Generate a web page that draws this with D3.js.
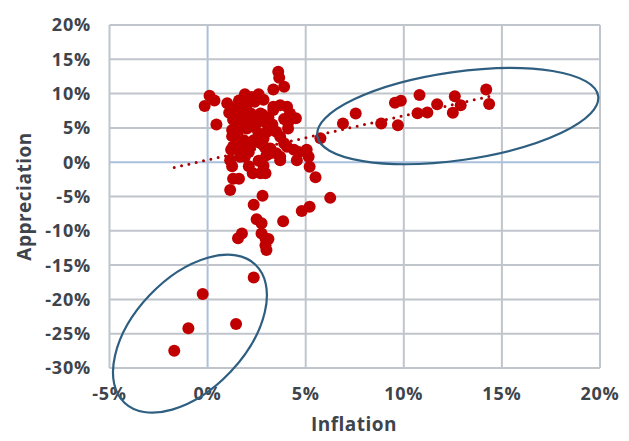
<!DOCTYPE html>
<html><head><meta charset="utf-8">
<script src="https://cdn.jsdelivr.net/npm/d3@7"></script>
<style>
html,body{margin:0;padding:0;background:#fff;}
svg text{font-family:"Open Sans",sans-serif;font-weight:700;fill:#3d444c;}
</style></head>
<body><svg id="chart" width="629" height="441"></svg>
<script>
// Data (percent)
const inflation = [3.6,3.65,3.9,3.35,0.1,-0.15,0.35,0.45,1.0,1.1,1.6,1.9,2.25,2.6,2.85,2.0,2.4,1.4,1.5,1.8,2.7,2.2,1.7,2.35,2.8,1.3,1.9,2.1,1.6,1.25,1.6,2.0,2.4,1.5,1.85,2.35,1.3,1.2,3.35,3.7,4.05,4.2,4.5,3.35,4.1,4.1,3.2,3.5,3.0,3.7,2.85,2.5,2.7,3.9,4.05,3.2,3.5,3.2,2.9,4.4,4.65,4.55,5.05,5.15,5.2,5.5,3.7,3.7,1.15,1.25,1.65,1.9,2.1,2.3,2.7,2.85,2.95,1.3,1.6,1.15,2.8,2.35,2.5,2.75,2.75,2.95,3.1,2.95,3.0,1.75,1.55,3.85,4.8,5.2,6.25,2.35,-0.25,-0.98,1.45,-1.7,5.75,6.9,7.55,8.85,9.7,9.55,9.85,10.8,10.7,11.2,11.7,12.5,12.6,12.9,14.2,14.35,2.9,3.1,2.5,3.3,2.6,1.9,2.1,3.9,1.25,2.2,3.0,1.7,2.6];
const appreciation = [13.2,12.3,11.0,10.6,9.7,8.2,9.0,5.5,8.6,7.2,9.0,9.9,9.5,9.9,9.1,8.4,8.8,8.0,7.6,7.8,7.1,7.1,6.6,6.4,6.9,6.2,6.0,5.6,5.4,4.7,4.7,4.9,5.1,3.2,3.2,3.2,2.3,1.8,8.1,8.3,8.1,7.1,6.4,7.6,5.7,4.9,4.7,4.45,4.4,3.7,3.5,3.0,2.75,2.75,2.25,2.0,1.3,1.3,2.2,1.8,1.5,0.3,1.8,0.8,-0.65,-2.2,0.3,0.8,0.3,-0.6,0.8,0.8,-0.6,-1.6,-1.6,-0.5,-1.6,-2.4,-2.4,-4.05,-4.9,-6.2,-8.3,-8.9,-10.4,-11.1,-11.2,-12.1,-12.8,-10.4,-11.1,-8.6,-7.1,-6.5,-5.2,-16.8,-19.2,-24.2,-23.6,-27.5,3.5,5.65,7.1,5.65,5.4,8.65,8.95,9.8,7.15,7.25,8.45,7.2,9.6,8.3,10.6,8.5,5.9,6.5,5.8,5.5,4.2,2.3,1.5,6.3,3.8,2.6,1.0,1.6,0.2];
const xTicks = [-5,0,5,10,15,20];
const yTicks = [-30,-25,-20,-15,-10,-5,0,5,10,15,20];
const trendSlope = 0.645;
const trendIntercept = 0.33;
// annotation ellipses: centre (data units), semi-axes (x-axis percent units), rotation (deg)
const ellipseCx = [12.75,-0.9];
const ellipseCy = [6.73,-25.0];
const ellipseA = [7.23,4.85];
const ellipseB = [2.25,2.84];
const ellipseRot = [-8.1,-46.5];

const svg = d3.select("#chart");
const x = d3.scaleLinear().domain([-5,20]).range([109.5,600]);
const y = d3.scaleLinear().domain([-30,20]).range([368,25]);

const grid = svg.append("g");
grid.selectAll(".gv").data(xTicks).join("line")
  .attr("x1",d=>x(d)).attr("x2",d=>x(d)).attr("y1",y(-30)).attr("y2",y(20))
  .attr("stroke",d=>d===0?"#aac0dc":"#c0c5cc").attr("stroke-width",2);
grid.selectAll(".gh").data(yTicks).join("line")
  .attr("y1",d=>y(d)).attr("y2",d=>y(d)).attr("x1",x(-5)).attr("x2",x(20))
  .attr("stroke",d=>d===0?"#aac0dc":"#c0c5cc").attr("stroke-width",2);

const fmt = d=>d+"%";
svg.append("g").selectAll("text").data(xTicks).join("text")
  .attr("x",d=>x(d)).attr("y",400).attr("text-anchor","middle")
  .attr("font-size",18).attr("letter-spacing",0.8).text(fmt);
svg.append("g").selectAll("text").data(yTicks).join("text")
  .attr("x",91).attr("y",d=>y(d)).attr("dy","0.36em").attr("text-anchor","end")
  .attr("font-size",18).attr("letter-spacing",0.8).text(fmt);

svg.append("text").attr("x",354).attr("y",431).attr("text-anchor","middle")
  .attr("font-size",19).attr("letter-spacing",0.5).text("Inflation");
svg.append("text").attr("transform",`translate(31,${(y(-30)+y(20))/2}) rotate(-90)`)
  .attr("text-anchor","middle").attr("font-size",19).attr("letter-spacing",0.5).text("Appreciation");

const ext = d3.extent(inflation);
svg.append("path")
  .attr("d",d3.line().x(d=>x(d)).y(d=>y(trendIntercept+trendSlope*d))(ext))
  .attr("stroke","#a80000").attr("stroke-width",3).attr("stroke-linecap","round")
  .attr("stroke-dasharray","0,7.5").attr("fill","none");

const pts = inflation.map((v,i)=>({x:v,y:appreciation[i]}));
svg.append("g").selectAll("circle").data(pts).join("circle")
  .attr("cx",d=>x(d.x)).attr("cy",d=>y(d.y)).attr("r",6).attr("fill","#c00000");

const unit = x(1)-x(0);
svg.append("g").selectAll("ellipse").data(ellipseCx.map((c,i)=>i)).join("ellipse")
  .attr("transform",i=>`translate(${x(ellipseCx[i])},${y(ellipseCy[i])}) rotate(${ellipseRot[i]})`)
  .attr("rx",i=>ellipseA[i]*unit).attr("ry",i=>ellipseB[i]*unit)
  .attr("fill","none").attr("stroke","#2f5f80").attr("stroke-width",2.2);
</script></body></html>
